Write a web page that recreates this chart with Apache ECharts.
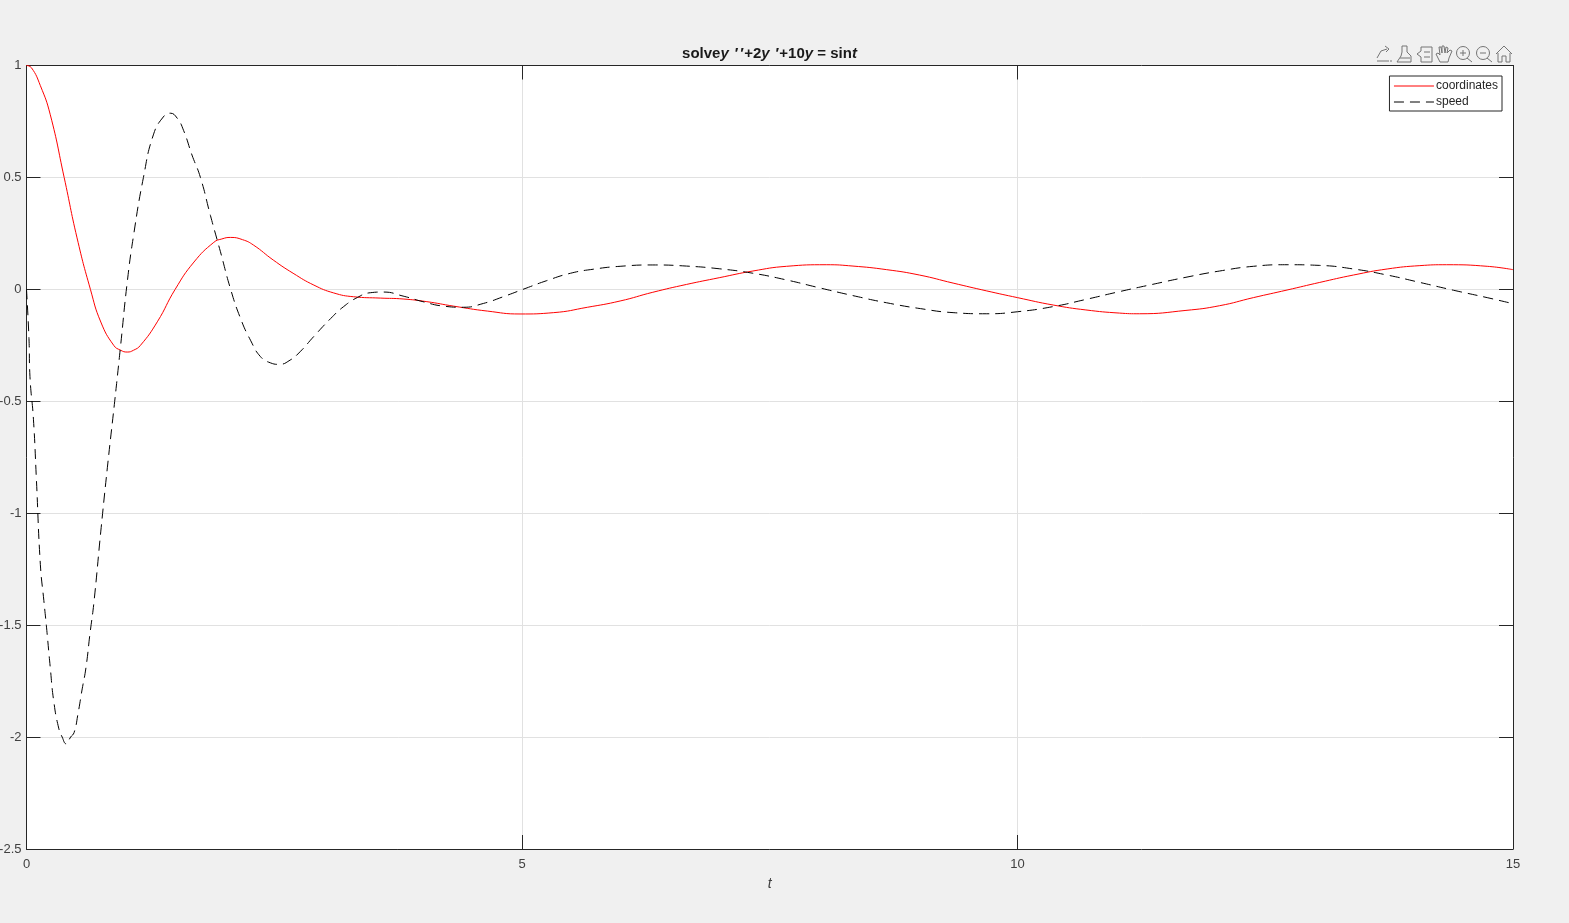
<!DOCTYPE html>
<html>
<head>
<meta charset="utf-8">
<title>solve y''+2y'+10y = sin t</title>
<script src="https://cdn.jsdelivr.net/npm/echarts@6/dist/echarts.min.js"></script>
<style>
  html, body { margin: 0; padding: 0; background: #f0f0f0; }
  #carts { width: 1569px; height: 923px; }
</style>
</head>
<body>
<div id="carts"></div>
<script>
// values
var coordT = [0, 0.05, 0.14, 0.24, 0.38, 0.51, 0.645, 0.75, 0.88, 0.95, 1.016, 1.08, 1.15, 1.32, 1.5, 1.69, 1.89, 1.97, 2.06, 2.18, 2.29, 2.49, 2.69, 2.9, 3.1, 3.3, 3.57, 3.8, 4.04, 4.31, 4.65, 4.98, 5.32, 5.66, 5.99, 6.32, 6.66, 6.99, 7.33, 7.67, 8.07, 8.34, 8.68, 9.01, 9.35, 9.69, 10, 10.36, 10.69, 11.03, 11.23, 11.7, 12.04, 12.38, 12.72, 13.05, 13.39, 13.73, 14.06, 14.33, 14.74, 15];
var coordinates = [1, 0.99, 0.91, 0.78, 0.5, 0.23, 0, -0.146, -0.25, -0.272, -0.28, -0.272, -0.25, -0.145, 0, 0.122, 0.21, 0.225, 0.232, 0.222, 0.198, 0.131, 0.072, 0.019, -0.016, -0.033, -0.039, -0.043, -0.055, -0.075, -0.097, -0.11, -0.104, -0.08, -0.052, -0.013, 0.022, 0.052, 0.082, 0.103, 0.11, 0.104, 0.088, 0.064, 0.028, -0.007, -0.037, -0.07, -0.092, -0.106, -0.109, -0.094, -0.073, -0.037, -0.003, 0.031, 0.064, 0.091, 0.106, 0.11, 0.103, 0.088];

var speedT = [0, 0.025, 0.035, 0.07, 0.1, 0.14, 0.175, 0.2, 0.24, 0.275, 0.325, 0.36, 0.4, 0.445, 0.48, 0.52, 0.56, 0.6, 0.64, 0.68, 0.75, 0.82, 0.89, 0.95, 1.016, 1.08, 1.18, 1.28, 1.38, 1.45, 1.52, 1.585, 1.67, 1.755, 1.856, 1.957, 2.06, 2.16, 2.26, 2.36, 2.46, 2.55, 2.66, 2.76, 2.9, 3.07, 3.2, 3.34, 3.47, 3.6, 3.8, 4, 4.21, 4.41, 4.61, 4.81, 5.01, 5.25, 5.49, 5.72, 5.99, 6.32, 6.66, 6.99, 7.33, 7.67, 8, 8.34, 8.68, 9.02, 9.35, 9.69, 10, 10.36, 10.69, 11.03, 11.36, 11.7, 12.04, 12.38, 12.72, 13.05, 13.39, 13.73, 14.06, 14.4, 14.74, 15];
var speed = [0, -0.22, -0.39, -0.58, -0.85, -1.23, -1.39, -1.5, -1.69, -1.84, -1.96, -2, -2.03, -2, -1.98, -1.895, -1.79, -1.69, -1.54, -1.4, -1.08, -0.78, -0.5, -0.25, 0.03, 0.24, 0.5, 0.69, 0.77, 0.787, 0.765, 0.71, 0.6, 0.5, 0.33, 0.168, 0, -0.13, -0.227, -0.3, -0.328, -0.335, -0.316, -0.279, -0.21, -0.13, -0.077, -0.036, -0.015, -0.012, -0.03, -0.055, -0.075, -0.08, -0.063, -0.033, 0, 0.039, 0.072, 0.09, 0.103, 0.109, 0.104, 0.092, 0.072, 0.042, 0.007, -0.028, -0.06, -0.086, -0.104, -0.109, -0.1, -0.077, -0.045, -0.01, 0.022, 0.054, 0.082, 0.103, 0.11, 0.107, 0.091, 0.064, 0.031, -0.004, -0.037, -0.064];

function pairs(xs, ys) {
    return xs.map(function (x, i) { return [x, ys[i]]; });
}

var fontName = '"Liberation Sans", Arial, sans-serif';
var boxColor = '#262626';
var gridColor = '#e1e1e1';
var iconColor = '#757575';

// the little axes toolbar, top right
var iconLines = [
    [[1377, 58], [1381, 51], [1387, 49]], [[1385, 46], [1389, 49], [1386, 52]], [[1377, 61], [1389, 61]], [[1390, 61], [1392, 61]],
    [[1402, 46], [1407, 46], [1407, 52], [1411, 56], [1411, 62], [1397, 62], [1401, 56], [1402, 52], [1402, 46]], [[1400, 58], [1410, 58]],
    [[1421, 47], [1432, 47], [1432, 62], [1421, 62], [1421, 57], [1417, 54], [1421, 51], [1421, 47]], [[1424, 52], [1430, 52]], [[1424, 57], [1430, 57]],
    [[1440, 62], [1436, 54], [1438, 53], [1440, 55], [1439, 47], [1441, 47], [1442, 53], [1442, 46], [1444, 46], [1445, 53], [1446, 47], [1448, 48], [1447, 53], [1450, 50], [1452, 51], [1449, 58], [1448, 62], [1440, 62]],
    [[1467, 58], [1472, 62]], [[1463, 50], [1463, 56]], [[1460, 53], [1466, 53]],
    [[1487, 58], [1492, 62]], [[1480, 53], [1486, 53]],
    [[1496, 54], [1504, 46], [1512, 54]], [[1498, 53], [1498, 62], [1502, 62], [1502, 56], [1506, 56], [1506, 62], [1510, 62], [1510, 53]]
];
var iconRings = [[1463, 53], [1483, 53]];

var myChart = echarts.init(document.getElementById('carts'), null, { renderer: 'canvas' });

var graphics = iconLines.map(function (pts) {
    return {
        type: 'polyline',
        silent: true,
        shape: { points: pts },
        style: { fill: null, stroke: iconColor, lineWidth: 1 }
    };
}).concat(iconRings.map(function (c) {
    return {
        type: 'circle',
        silent: true,
        shape: { cx: c[0], cy: c[1], r: 6.5 },
        style: { fill: null, stroke: iconColor, lineWidth: 1 }
    };
}));

var option = {
    animation: false,
    backgroundColor: '#f0f0f0',
    textStyle: { fontFamily: fontName },
    title: {
        text: '{b|solve}{i|y }{p|′}{p|′}{b|+2}{i|y }{p|′}{b|+10}{i|y}{b| = sin}{i|t}',
        left: 769.5,
        top: 46,
        textAlign: 'center',
        padding: 0,
        textStyle: {
            rich: {
                b: { fontFamily: fontName, fontSize: 15, fontWeight: 'bold', color: '#1a1a1a' },
                i: { fontFamily: fontName, fontSize: 15, fontWeight: 'bold', fontStyle: 'italic', color: '#1a1a1a' },
                p: { fontFamily: fontName, fontSize: 15, fontWeight: 'bold', fontStyle: 'italic', color: '#1a1a1a', padding: [0, 1, 0, 1] }
            }
        }
    },
    legend: {
        orient: 'vertical',
        right: 67,
        top: 76,
        padding: [4, 4, 3, 4],
        itemGap: 4,
        itemWidth: 40,
        itemHeight: 13,
        backgroundColor: '#fff',
        borderColor: boxColor,
        borderWidth: 1,
        borderRadius: 0,
        itemStyle: { opacity: 0 },
        lineStyle: { width: 1 },
        data: ['coordinates', 'speed'],
        textStyle: { fontFamily: fontName, fontSize: 12, color: '#262626', padding: [0, 0, 0, -3] }
    },
    grid: { left: 26.5, right: 56, top: 65.5, bottom: 74, show: true, backgroundColor: '#fff', borderWidth: 0, outerBoundsMode: 'none' },
    xAxis: [{
        type: 'value', min: 0, max: 15, interval: 5,
        name: 't', nameLocation: 'middle', nameGap: 28,
        nameTextStyle: { fontFamily: fontName, fontSize: 14, fontStyle: 'italic', color: '#404040' },
        axisLine: { onZero: false, lineStyle: { color: boxColor, width: 1 } },
        axisTick: { inside: true, length: 14, lineStyle: { color: boxColor, width: 1 } },
        axisLabel: { fontFamily: fontName, fontSize: 13, color: '#404040', margin: 9 },
        splitLine: { show: true, lineStyle: { color: gridColor, width: 1 } }
    }, {
        type: 'value', position: 'top', min: 0, max: 15, interval: 5,
        axisLine: { onZero: false, lineStyle: { color: boxColor, width: 1 } },
        axisTick: { inside: true, length: 14, lineStyle: { color: boxColor, width: 1 } },
        axisLabel: { show: false },
        splitLine: { show: false }
    }],
    yAxis: [{
        type: 'value', min: -2.5, max: 1, interval: 0.5,
        axisLine: { onZero: false, show: true, lineStyle: { color: boxColor, width: 1 } },
        axisTick: { show: true, inside: true, length: 14, lineStyle: { color: boxColor, width: 1 } },
        axisLabel: { fontFamily: fontName, fontSize: 13, color: '#404040', margin: 5 },
        splitLine: { show: true, lineStyle: { color: gridColor, width: 1 } }
    }, {
        type: 'value', position: 'right', min: -2.5, max: 1, interval: 0.5,
        axisLine: { onZero: false, show: true, lineStyle: { color: boxColor, width: 1 } },
        axisTick: { show: true, inside: true, length: 14, lineStyle: { color: boxColor, width: 1 } },
        axisLabel: { show: false },
        splitLine: { show: false }
    }],
    series: [{
        name: 'coordinates',
        type: 'line',
        data: pairs(coordT, coordinates),
        smooth: 0.5,
        showSymbol: false,
        symbol: 'none',
        lineStyle: { color: '#ff0000', width: 1 },
        itemStyle: { color: '#ff0000' }
    }, {
        name: 'speed',
        type: 'line',
        data: pairs(speedT, speed),
        smooth: 0.5,
        showSymbol: false,
        symbol: 'none',
        lineStyle: { color: '#000000', width: 1, type: [10, 6] },
        itemStyle: { color: '#000000' }
    }],
    graphic: graphics
};

myChart.setOption(option);
</script>
</body>
</html>
